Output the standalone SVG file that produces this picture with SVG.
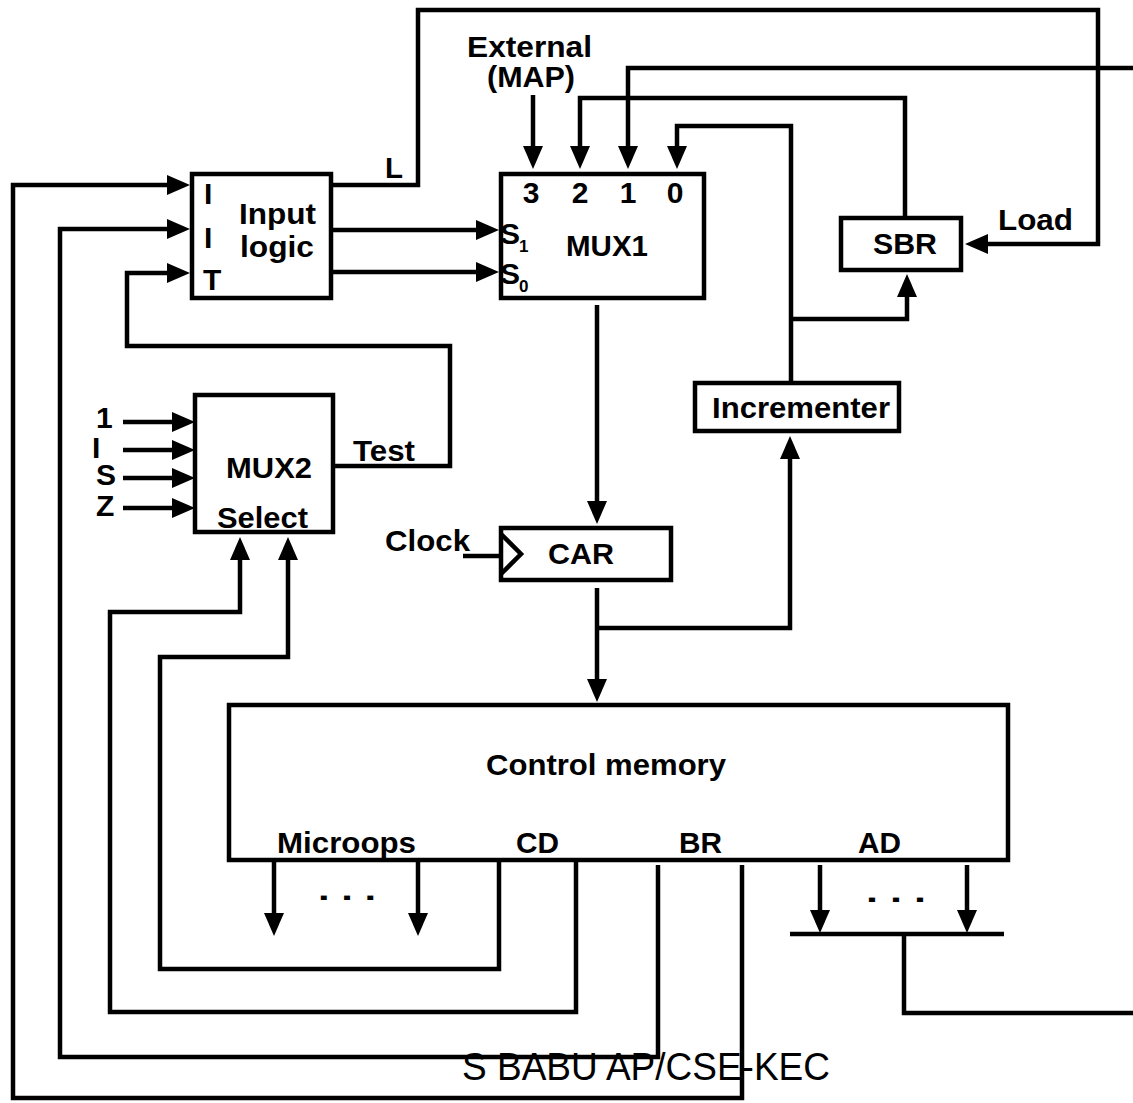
<svg xmlns="http://www.w3.org/2000/svg" width="1133" height="1103" viewBox="0 0 1133 1103">
<style>
.b{fill:#fff;stroke:#000;stroke-width:4.5}
.w{fill:none;stroke:#000;stroke-width:4.5;stroke-linejoin:miter}
.wa{fill:none;stroke:#000;stroke-width:4.5;marker-end:url(#ah)}
.t{font-family:"Liberation Sans",Arial,Helvetica,sans-serif;font-weight:bold;font-size:30px;fill:#000}
.n{font-family:"Liberation Sans",Arial,Helvetica,sans-serif;font-size:38px;fill:#000}
</style>
<defs>
<marker id="ah" markerUnits="userSpaceOnUse" markerWidth="23" markerHeight="20" refX="0" refY="10" orient="auto">
<path d="M0,0 L23,10 L0,20 z" fill="#000"/>
</marker>
</defs>
<rect width="1133" height="1103" fill="#fff"/>

<g id="connectors">
<polyline class="wa" points="742,865 742,1098 13,1098 13,185 167,185"/>
<polyline class="wa" points="658,865 658,1057 60,1057 60,229 167,229"/>
<polyline class="wa" points="576,862 576,1012 110,1012 110,612 240,612 240,560"/>
<polyline class="wa" points="499,862 499,969 160,969 160,657 288,657 288,560"/>
<polyline class="wa" points="335,466 450,466 450,346 127,346 127,273 167,273"/>
<polyline class="wa" points="333,185 418,185 418,10 1098,10 1098,244 988,244"/>
<line class="wa" x1="333" y1="230" x2="476" y2="230"/>
<line class="wa" x1="333" y1="272" x2="476" y2="272"/>
<line class="wa" x1="533" y1="95" x2="533" y2="146"/>
<polyline class="wa" points="1133,68 628,68 628,146"/>
<polyline class="wa" points="905,216 905,98 580,98 580,146"/>
<polyline class="wa" points="791,381 791,126 677,126 677,146"/>
<polyline class="wa" points="791,319 907,319 907,297"/>
<line class="wa" x1="597" y1="305" x2="597" y2="501"/>
<line class="w" x1="463" y1="556" x2="501" y2="556"/>
<line class="wa" x1="597" y1="588" x2="597" y2="679"/>
<polyline class="wa" points="597,628 790,628 790,459"/>
<line class="wa" x1="274" y1="862" x2="274" y2="913"/>
<line class="wa" x1="418" y1="862" x2="418" y2="913"/>
<line class="wa" x1="820" y1="865" x2="820" y2="910"/>
<line class="wa" x1="967" y1="865" x2="967" y2="910"/>
<line class="w" x1="790" y1="934" x2="1004" y2="934"/>
<polyline class="w" points="904,934 904,1013 1133,1013"/>
<line class="wa" x1="123" y1="422" x2="172" y2="422"/>
<line class="wa" x1="123" y1="450" x2="172" y2="450"/>
<line class="wa" x1="123" y1="478" x2="172" y2="478"/>
<line class="wa" x1="123" y1="508" x2="172" y2="508"/>
</g>

<g id="input-logic">
<rect class="b" x="192" y="174" width="139" height="124"/>
<text class="t" x="204" y="204" font-size="27">I</text>
<text class="t" x="204" y="248" font-size="27">I</text>
<text class="t" x="203" y="290" font-size="27">T</text>
<text class="t" x="239" y="224" textLength="77" lengthAdjust="spacingAndGlyphs">Input</text>
<text class="t" x="240" y="257" textLength="74" lengthAdjust="spacingAndGlyphs">logic</text>
<text class="t" x="385" y="178" textLength="18" lengthAdjust="spacingAndGlyphs">L</text>
</g>

<g id="mux1">
<rect class="b" x="501" y="174" width="203" height="124"/>
<text class="t" x="531" y="203" text-anchor="middle" font-size="28">3</text>
<text class="t" x="580" y="203" text-anchor="middle" font-size="28">2</text>
<text class="t" x="628" y="203" text-anchor="middle" font-size="28">1</text>
<text class="t" x="675" y="203" text-anchor="middle" font-size="28">0</text>
<text class="t" x="500" y="244" font-size="26">S<tspan font-size="17" x="519" y="252">1</tspan></text>
<text class="t" x="500" y="284" font-size="26">S<tspan font-size="17" x="519" y="292">0</tspan></text>
<text class="t" x="566" y="256" textLength="82" lengthAdjust="spacingAndGlyphs">MUX1</text>
</g>

<g id="external">
<text class="t" x="467" y="57" textLength="125" lengthAdjust="spacingAndGlyphs">External</text>
<text class="t" x="487" y="87" textLength="88" lengthAdjust="spacingAndGlyphs">(MAP)</text>
</g>

<g id="sbr">
<rect class="b" x="841" y="218" width="120" height="52"/>
<text class="t" x="873" y="254" textLength="64" lengthAdjust="spacingAndGlyphs">SBR</text>
<text class="t" x="998" y="230" textLength="75" lengthAdjust="spacingAndGlyphs">Load</text>
</g>

<g id="incrementer">
<rect class="b" x="695" y="383" width="204" height="48"/>
<text class="t" x="712" y="418" textLength="178" lengthAdjust="spacingAndGlyphs">Incrementer</text>
</g>

<g id="mux2">
<rect class="b" x="195" y="395" width="138" height="137"/>
<text class="t" x="226" y="478" textLength="86" lengthAdjust="spacingAndGlyphs">MUX2</text>
<text class="t" x="217" y="528" textLength="91" lengthAdjust="spacingAndGlyphs">Select</text>
<text class="t" x="353" y="461" textLength="62" lengthAdjust="spacingAndGlyphs">Test</text>
<text class="t" x="96" y="428" font-size="23">1</text>
<text class="t" x="92" y="458" font-size="23">I</text>
<text class="t" x="96" y="485" font-size="23">S</text>
<text class="t" x="96" y="516" font-size="23">Z</text>
</g>

<g id="car">
<rect class="b" x="501" y="528" width="170" height="52"/>
<polyline class="w" points="501,534 521,554 501,574" stroke-width="3"/>
<text class="t" x="548" y="564" textLength="66" lengthAdjust="spacingAndGlyphs">CAR</text>
<text class="t" x="385" y="551" textLength="85" lengthAdjust="spacingAndGlyphs">Clock</text>
</g>

<g id="control-memory">
<rect class="b" x="229" y="705" width="779" height="155"/>
<text class="t" x="486" y="775" textLength="240" lengthAdjust="spacingAndGlyphs">Control memory</text>
<text class="t" x="277" y="853" textLength="139" lengthAdjust="spacingAndGlyphs">Microops</text>
<text class="t" x="516" y="853" textLength="43" lengthAdjust="spacingAndGlyphs">CD</text>
<text class="t" x="679" y="853" textLength="43" lengthAdjust="spacingAndGlyphs">BR</text>
<text class="t" x="858" y="853" textLength="43" lengthAdjust="spacingAndGlyphs">AD</text>
<text class="t" x="318" y="900" font-size="44" textLength="58" lengthAdjust="spacingAndGlyphs">. . .</text>
<text class="t" x="866" y="902" font-size="44" textLength="60" lengthAdjust="spacingAndGlyphs">. . .</text>
</g>

<text class="n" x="462" y="1080" textLength="368" lengthAdjust="spacingAndGlyphs">S BABU AP/CSE-KEC</text>
</svg>
